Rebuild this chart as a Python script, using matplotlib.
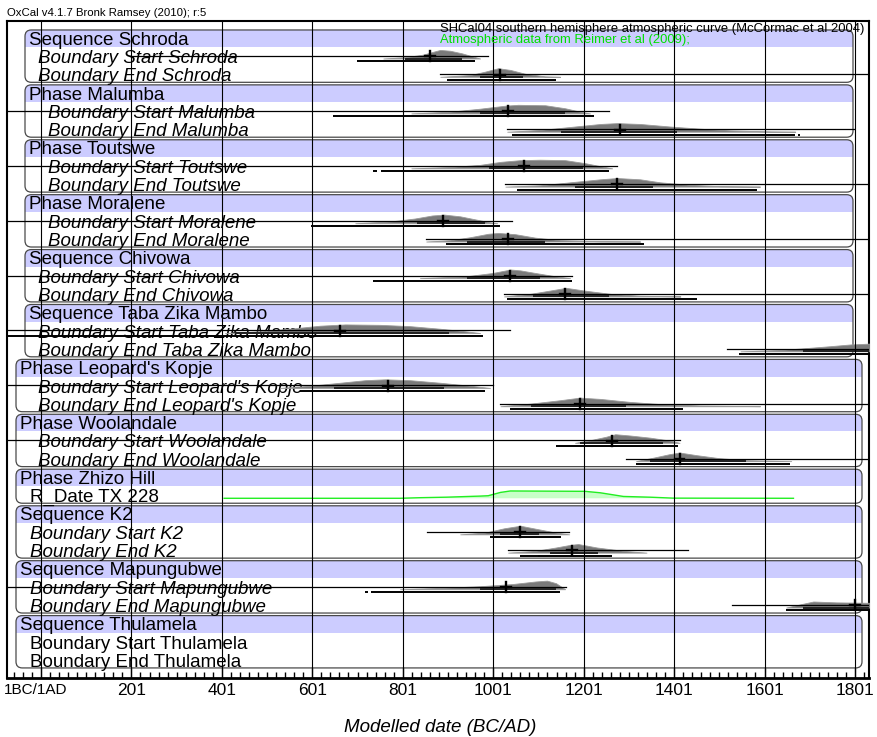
"""
OxCal-style multiplot of modelled boundary dates (southern African sequences).
Writes out.png.
"""

import matplotlib
matplotlib.use("Agg")
import matplotlib.pyplot as plt
import matplotlib.transforms as mtransforms
from matplotlib.patches import FancyBboxPatch, Rectangle
from matplotlib.ticker import FixedLocator

plt.rcParams["font.family"] = ["Liberation Sans", "DejaVu Sans"]

# ---------------------------------------------------------------------------
# Data
# ---------------------------------------------------------------------------

ROW_LABELS = [
    "Sequence Schroda", "Boundary Start Schroda", "Boundary End Schroda",
    "Phase Malumba", "Boundary Start Malumba", "Boundary End Malumba",
    "Phase Toutswe", "Boundary Start Toutswe", "Boundary End Toutswe",
    "Phase Moralene", "Boundary Start Moralene", "Boundary End Moralene",
    "Sequence Chivowa", "Boundary Start Chivowa", "Boundary End Chivowa",
    "Sequence Taba Zika Mambo", "Boundary Start Taba Zika Mambo",
    "Boundary End Taba Zika Mambo",
    "Phase Leopard's Kopje", "Boundary Start Leopard's Kopje",
    "Boundary End Leopard's Kopje",
    "Phase Woolandale", "Boundary Start Woolandale", "Boundary End Woolandale",
    "Phase Zhizo Hill", "R_Date TX 228",
    "Sequence K2", "Boundary Start K2", "Boundary End K2",
    "Sequence Mapungubwe", "Boundary Start Mapungubwe", "Boundary End Mapungubwe",
    "Sequence Thulamela", "Boundary Start Thulamela", "Boundary End Thulamela",
]

# groups: first row (header), last row, nesting ("in" = deeper box)
GROUP_FIRST = [0, 3, 6, 9, 12, 15, 18, 21, 24, 26, 29, 32]
GROUP_LAST  = [2, 5, 8, 11, 14, 17, 20, 23, 25, 28, 31, 34]
GROUP_LEVEL = ["in", "in", "in", "in", "in", "in",
               "out", "out", "out", "out", "out", "out"]

# modelled boundaries (calendar years AD)
B_ROWS = [1, 2, 4, 5, 7, 8, 10, 11, 13, 14, 16, 17, 19, 20, 22, 23, 27, 28, 30, 31]

PRIOR = [(198, 990), (884, 1835), (-74, 1258), (1032, 1798),
         (-74, 1275), (1028, 1835), (-74, 1043), (853, 1835),
         (-74, 1176), (1025, 1835), (-74, 1039), (1519, 1835),
         (-74, 1001), (1017, 1835), (-74, 1415), (1295, 1835),
         (855, 1169), (1034, 1432), (-74, 1162), (1530, 1835)]

DIST_YEARS = [
    [758, 806, 846, 866, 884, 906, 932, 955, 972],
    [884, 950, 983, 1012, 1039, 1072, 1116, 1149],
    [820, 906, 972, 1028, 1056, 1116, 1160, 1193, 1215],
    [1032, 1105, 1171, 1238, 1275, 1326, 1393, 1459, 1525, 1614, 1669],
    [820, 906, 972, 1017, 1061, 1105, 1160, 1204, 1238, 1264],
    [1028, 1105, 1171, 1238, 1275, 1326, 1370, 1437, 1503, 1591],
    [696, 773, 828, 866, 893, 928, 961, 994, 1010],
    [853, 906, 950, 990, 1012, 1050, 1094, 1149, 1238, 1326],
    [839, 939, 1000, 1039, 1061, 1094, 1140, 1171],
    [1025, 1083, 1140, 1162, 1200, 1260, 1326, 1415],
    [408, 486, 552, 618, 674, 751, 817, 883, 939, 972],
    [1548, 1636, 1687, 1747, 1791, 1835],
    [530, 596, 662, 718, 762, 817, 884, 950, 994],
    [1017, 1083, 1149, 1193, 1238, 1304, 1370, 1459, 1591],
    [1182, 1215, 1250, 1271, 1304, 1348, 1393, 1413],
    [1317, 1355, 1390, 1413, 1450, 1500, 1560, 1660],
    [928, 983, 1025, 1061, 1100, 1140, 1169],
    [1034, 1094, 1140, 1171, 1189, 1230, 1290, 1340],
    [795, 884, 972, 1043, 1094, 1120, 1140, 1160],
    [1649, 1687, 1709, 1760, 1835],
]
DIST_HEIGHT = [
    [0, 0.15, 0.45, 0.75, 1.0, 0.9, 0.6, 0.25, 0],
    [0, 0.2, 0.6, 1.0, 0.8, 0.35, 0.05, 0],
    [0, 0.2, 0.55, 0.9, 1.0, 0.95, 0.6, 0.2, 0],
    [0, 0.2, 0.55, 0.9, 1.0, 0.9, 0.6, 0.35, 0.15, 0.03, 0],
    [0, 0.15, 0.4, 0.75, 0.95, 1.0, 0.95, 0.6, 0.25, 0],
    [0, 0.15, 0.5, 0.85, 1.0, 0.85, 0.5, 0.2, 0.05, 0],
    [0, 0.2, 0.55, 0.9, 1.0, 0.8, 0.45, 0.1, 0],
    [0, 0.15, 0.5, 0.9, 1.0, 0.85, 0.45, 0.15, 0.03, 0],
    [0, 0.2, 0.6, 1.0, 0.9, 0.6, 0.2, 0],
    [0, 0.3, 0.8, 1.0, 0.7, 0.3, 0.08, 0],
    [0, 0.2, 0.5, 0.85, 1.0, 0.95, 0.8, 0.5, 0.2, 0],
    [0, 0.15, 0.35, 0.6, 0.8, 0.9],
    [0, 0.25, 0.6, 0.9, 1.0, 0.9, 0.6, 0.25, 0],
    [0, 0.3, 0.7, 1.0, 0.85, 0.5, 0.25, 0.08, 0],
    [0, 0.3, 0.7, 1.0, 0.85, 0.6, 0.25, 0],
    [0, 0.4, 0.8, 1.0, 0.7, 0.35, 0.1, 0],
    [0, 0.2, 0.7, 1.0, 0.6, 0.2, 0],
    [0, 0.2, 0.6, 0.9, 1.0, 0.6, 0.2, 0],
    [0, 0.15, 0.35, 0.6, 0.9, 1.0, 0.7, 0],
    [0, 0.45, 0.7, 0.6, 0.55],
]

RANGE68 = [[(806, 932)], [(972, 1067)], [(972, 1160)], [(1151, 1408)],
           [(992, 1200)], [(1182, 1355)], [(833, 983)], [(943, 1116)],
           [(943, 1105)], [(1089, 1258)], [(430, 904)], [(1687, 1835)],
           [(649, 893)], [(1085, 1295)], [(1193, 1377)], [(1348, 1559)],
           [(1017, 1103)], [(1127, 1233)], [(972, 1140)], [(1687, 1835)]]
RANGE95 = [[(700, 961)], [(899, 1140)], [(647, 1224)], [(1043, 1669), (1674, 1680)],
           [(736, 745), (753, 1258)], [(1054, 1585)], [(598, 1017)], [(897, 1335)],
           [(736, 1176)], [(1032, 1452)], [(-74, 979)], [(1545, 1835)],
           [(574, 983)], [(1039, 1421)], [(1140, 1410)], [(1317, 1658)],
           [(994, 1151)], [(1061, 1264), (1101, 1105)], [(718, 725), (731, 1149)],
           [(1649, 1835)]]
MEANS = [862, 1017, 1034, 1282, 1070, 1275, 890, 1034, 1039, 1160,
         662, None, 769, 1193, 1264, 1413, 1061, 1176, 1030, 1802]

# unmodelled radiocarbon likelihood (green)
RDATE_ROW = 25
RDATE_YEARS = [406, 795, 839, 897, 972, 990, 1017, 1039, 1204, 1238, 1289, 1348, 1399, 1665]
RDATE_HEIGHT = [0, 0, 0.08, 0.15, 0.3, 0.35, 0.8, 1.0, 0.95, 0.75, 0.25, 0.15, 0.02, 0]

MAJOR_TICKS = [1, 201, 401, 601, 801, 1001, 1201, 1401, 1601, 1801]
TICK_LABELS = ["1BC/1AD", "201", "401", "601", "801", "1001", "1201", "1401", "1601", "1801"]

# ---------------------------------------------------------------------------
# Layout helpers (pixel positions of the 877x737 canvas -> years)
# ---------------------------------------------------------------------------

PX_PER_YEAR = 90.44 / 200.0
ROW_PX = 18.3


def yr(px):
    return 1 + (px - 41) / PX_PER_YEAR


BOX_X = {"in": (yr(25), yr(853)), "out": (yr(16), yr(862))}
HEADER_X = {"in": yr(29), "out": yr(20)}
CHILD_X = [yr(38), yr(48), yr(48), yr(48), yr(38), yr(38),
           yr(38), yr(38), yr(30), yr(30), yr(30), yr(30)]

fig = plt.figure(figsize=(8.77, 7.37), dpi=100)
ax = fig.add_axes([7 / 877, 1 - 678 / 737, 862 / 877, 657 / 737])
ax.set_xlim(yr(7), yr(869))
ax.set_ylim(34.97, -0.93)

aspect = (1 / ROW_PX) / (1 / PX_PER_YEAR)

for first, last, level, cx in zip(GROUP_FIRST, GROUP_LAST, GROUP_LEVEL, CHILD_X):
    x0, x1 = BOX_X[level]
    y0, y1 = first - 0.44, last + 0.42
    style = "round,pad=0,rounding_size=14"
    face = FancyBboxPatch((x0, y0), x1 - x0, y1 - y0, boxstyle=style,
                          mutation_aspect=aspect, facecolor="white",
                          edgecolor="none", zorder=1)
    ax.add_patch(face)
    band = Rectangle((x0, y0 - 0.1), x1 - x0, first + 0.5 - y0 + 0.1,
                     facecolor="#ccccff", edgecolor="none", zorder=2)
    band.set_clip_path(face)
    ax.add_patch(band)
    edge = FancyBboxPatch((x0, y0), x1 - x0, y1 - y0, boxstyle=style,
                          mutation_aspect=aspect, facecolor="none",
                          edgecolor="#4a4a4a", lw=0.9, zorder=3)
    ax.add_patch(edge)

    ax.text(HEADER_X[level], first + 0.36, ROW_LABELS[first], fontsize=13.5,
            va="baseline", ha="left", zorder=4)
    for r in range(first + 1, last + 1):
        style_txt = "italic" if r in B_ROWS else "normal"
        ax.text(cx, r + 0.37, ROW_LABELS[r], fontsize=13.5, style=style_txt,
                va="baseline", ha="left", zorder=4)

# distributions
for i, r in enumerate(B_ROWS):
    base = r + 0.12
    xs = DIST_YEARS[i]
    tops = [base - 0.47 * h for h in DIST_HEIGHT[i]]
    ax.fill_between(xs, tops, base, facecolor="#7a7a7a", edgecolor="#9a9a9a",
                    lw=0.6, zorder=5)
    p0, p1 = PRIOR[i]
    ax.plot([p0, p1], [r - 0.02, r - 0.02], color="black", lw=0.9, zorder=6)
    for a, b in RANGE68[i]:
        ax.plot([a, b], [r + 0.12, r + 0.12], color="#202020", lw=1.4,
                solid_capstyle="butt", zorder=6)
    for a, b in RANGE95[i]:
        ax.plot([a, b], [r + 0.28, r + 0.28], color="black", lw=1.4,
                solid_capstyle="butt", zorder=6)
    m = MEANS[i]
    if m is not None:
        ax.plot([m - 11, m + 11], [r, r], color="black", lw=1.7, zorder=6)
        ax.plot([m, m], [r - 0.27, r + 0.27], color="black", lw=1.7, zorder=6)

rbase = RDATE_ROW + 0.15
rtops = [rbase - 0.4 * h for h in RDATE_HEIGHT]
ax.fill_between(RDATE_YEARS, rtops, rbase, facecolor="#c8ffc8", edgecolor="none",
                zorder=5)
ax.plot(RDATE_YEARS, rtops, color="#22ee22", lw=1.0, zorder=6)

# grid lines over everything
for t in MAJOR_TICKS:
    ax.axvline(t, color="black", lw=0.8, zorder=7)

ax.set_yticks([])
ax.xaxis.set_major_locator(FixedLocator(MAJOR_TICKS))
ax.xaxis.set_minor_locator(FixedLocator([t for t in range(-59, 1834, 20)]))
ax.tick_params(axis="x", which="both", direction="in", labelbottom=False,
               width=1.0, top=False)
ax.tick_params(axis="x", which="major", length=8)
ax.tick_params(axis="x", which="minor", length=4)
for side in ["left", "right", "top"]:
    ax.spines[side].set_linewidth(1.5)
ax.spines["bottom"].set_linewidth(2.0)

btrans = mtransforms.blended_transform_factory(ax.transData, ax.transAxes)
for k, (t, lab) in enumerate(zip(MAJOR_TICKS, TICK_LABELS)):
    if k == 0:
        # first label pushed right so it stays inside the canvas
        ax.annotate(lab, xy=(yr(4), 0), xycoords=btrans, xytext=(0, -9),
                    textcoords="offset points", ha="left", va="center",
                    fontsize=11, annotation_clip=False)
    else:
        ax.annotate(lab, xy=(t, 0), xycoords=btrans, xytext=(0, -9),
                    textcoords="offset points", ha="center", va="center",
                    fontsize=12.5, annotation_clip=False)

fig.text(440 / 877, 1 - 727 / 737, "Modelled date (BC/AD)", fontsize=13.5,
         style="italic", ha="center", va="center")
fig.text(7 / 877, 1 - 13 / 737, "OxCal v4.1.7 Bronk Ramsey (2010); r:5",
         fontsize=8.2, ha="left", va="center")
fig.text(440 / 877, 1 - 29 / 737,
         "SHCal04 southern hemisphere atmospheric curve (McCormac et al 2004)",
         fontsize=9.4, ha="left", va="center", zorder=10)
fig.text(440 / 877, 1 - 40 / 737, "Atmospheric data from Reimer et al (2009);",
         fontsize=9.4, color="#00e000", ha="left", va="center", zorder=10)

fig.savefig("out.png", dpi=100)
